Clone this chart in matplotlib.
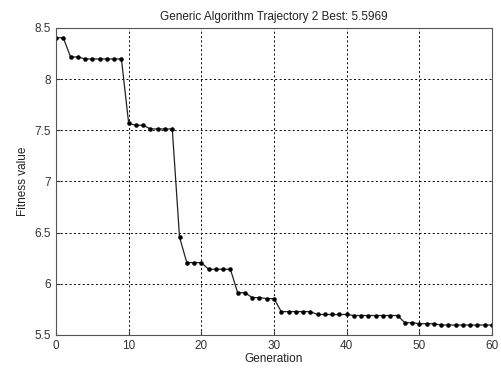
import matplotlib
matplotlib.use("Agg")
import matplotlib.pyplot as plt

generations = list(range(61))
fitness = [8.405, 8.405, 8.217, 8.217, 8.197, 8.197, 8.197, 8.197, 8.197, 8.197,
           7.568, 7.549, 7.549, 7.513, 7.513, 7.513, 7.513, 6.455, 6.207, 6.207,
           6.207, 6.142, 6.142, 6.142, 6.142, 5.913, 5.913, 5.865, 5.865, 5.855,
           5.855, 5.728, 5.728, 5.728, 5.728, 5.728, 5.700, 5.700, 5.700, 5.700,
           5.700, 5.690, 5.690, 5.690, 5.690, 5.690, 5.690, 5.690, 5.620, 5.620,
           5.610, 5.610, 5.610, 5.5969, 5.5969, 5.5969, 5.5969, 5.5969, 5.5969, 5.5969,
           5.5969]
xticks = [0, 10, 20, 30, 40, 50, 60]
yticks = [5.5, 6, 6.5, 7, 7.5, 8, 8.5]
ytick_labels = ["5.5", "6", "6.5", "7", "7.5", "8", "8.5"]

plt.rcParams['font.family'] = ['Liberation Sans', 'DejaVu Sans']
fig = plt.figure(figsize=(5.01, 3.73), dpi=100)
ax = fig.add_axes([0.1118, 0.102, 0.8702, 0.823])
ax.plot(generations, fitness, color='#222222', lw=0.9, marker='.', ms=4.5,
        mfc='black', mec='black')
ax.set_xlim(0, 60)
ax.set_ylim(5.5, 8.5)
ax.set_xticks(xticks)
ax.set_yticks(yticks)
ax.set_yticklabels(ytick_labels)
ax.grid(True, color='black', linestyle=(0, (2, 2.5)), lw=0.7)
ax.tick_params(direction='in', labelsize=8.5, colors='#333333', length=3)
for s in ax.spines.values():
    s.set_color('#555555')
    s.set_linewidth(0.8)
ax.set_title("Generic Algorithm Trajectory 2 Best: 5.5969", fontsize=8.5, color='#222222', pad=6)
ax.set_xlabel("Generation", fontsize=8.5, color='#222222', labelpad=1)
ax.set_ylabel("Fitness value", fontsize=8.5, color='#222222', labelpad=4)
fig.savefig("out.png", dpi=100, facecolor='white')
